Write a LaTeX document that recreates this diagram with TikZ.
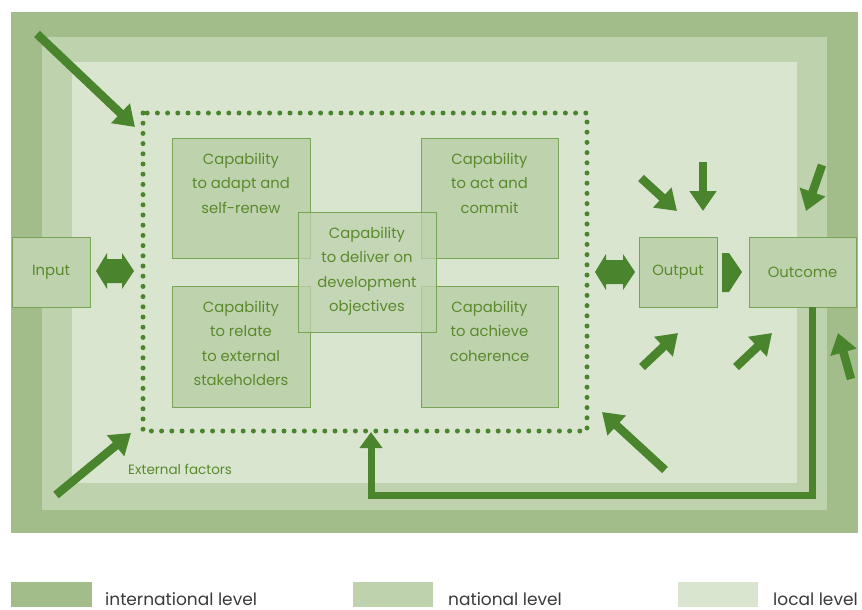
\documentclass[tikz,border=0pt]{standalone}
\usepackage{fontspec}
\setmainfont{Poppins}
\usetikzlibrary{arrows.meta}
\definecolor{intl}{HTML}{A2BD8A}
\definecolor{natl}{HTML}{BED2AE}
\definecolor{locl}{HTML}{DAE5D0}
\definecolor{agreen}{HTML}{4A852E}
\definecolor{bline}{HTML}{78A458}
\definecolor{tgreen}{HTML}{5A8A2C}
\definecolor{lgray}{HTML}{3A3A3A}
\tikzset{
  capbox/.style={draw=bline, line width=0.8pt, fill=natl, inner sep=0pt},
  captext/.style={text=tgreen, align=center, inner sep=0pt, anchor=north, font=\fontsize{14.8}{24.5}\selectfont},
  bigarrow/.style={draw=agreen, line width=8.5pt, -{Triangle[length=20pt,width=26pt]}},
  blockarrow/.style={fill=agreen, draw=none},
  legtext/.style={text=lgray, anchor=base west, inner sep=0pt, font=\fontsize{17}{20}\selectfont},
}
\begin{document}
\begin{tikzpicture}[x=1pt,y=-1pt]
\useasboundingbox (0,0) rectangle (862,610);
% levels
\fill[intl] (11,12) rectangle (858,533);
\fill[natl] (42,37) rectangle (827,510);
\fill[locl] (72,62) rectangle (797,483);
% legend
\fill[intl] (11,582) rectangle (92,607);
\fill[natl] (353,582) rectangle (433,607);
\fill[locl] (678,582) rectangle (758,607);
\node[legtext] (lint) at (105,605) {international level};
\node[legtext] (lnat) at (448,605) {national level};
\node[legtext] (lloc) at (773,605) {local level};
% dotted frame
\draw[agreen, line width=5pt, line cap=round, dash pattern=on 0pt off 10.2pt] (143,113) rectangle (587,431);
\coordinate (dtl) at (135,127);
\coordinate (dbl) at (131,433);
\coordinate (dbr) at (602,412);
\coordinate (dbm) at (371,432);
% capability boxes
\node[capbox, minimum width=138pt, minimum height=120pt] (adapt) at (241,198) {};
\node[capbox, minimum width=138pt, minimum height=121pt] (relate) at (241,346.5) {};
\node[capbox, minimum width=137pt, minimum height=120pt] (act) at (489.5,198) {};
\node[capbox, minimum width=137pt, minimum height=121pt] (coher) at (489.5,346.5) {};
\node[capbox, fill opacity=0.75, minimum width=138pt, minimum height=120pt] (deliver) at (367,272) {};
\node[captext] (tadapt) at ([yshift=-15pt]adapt.north) {Capability\\to adapt and\\self-renew};
\node[captext] (trelate) at ([yshift=-15pt]relate.north) {Capability\\to relate\\to external\\stakeholders};
\node[captext] (tact) at ([yshift=-15pt]act.north) {Capability\\to act and\\commit};
\node[captext] (tcoher) at ([yshift=-15pt]coher.north) {Capability\\to achieve\\coherence};
\node[captext] (tdeliver) at ([yshift=-15pt]deliver.north) {Capability\\to deliver on\\development\\objectives};
% input / output / outcome
\node[capbox, minimum width=78pt, minimum height=70pt, text=tgreen, font=\fontsize{14.8}{17}\selectfont] (input) at (51,272) {Input};
\node[capbox, minimum width=78pt, minimum height=70pt, text=tgreen, font=\fontsize{14.8}{17}\selectfont] (output) at (678,272) {Output};
\node[capbox, minimum width=107pt, minimum height=70pt, text=tgreen, font=\fontsize{14.8}{17}\selectfont] (outcome) at (802.5,272) {Outcome};
% block arrows
\fill[blockarrow] (96,271) -- (107,253) -- (107,259) -- (122,259) -- (122,253) -- (134,271) -- (122,289) -- (122,283) -- (107,283) -- (107,289) -- cycle;
\fill[blockarrow] (595,272) -- (606,254) -- (606,260) -- (623,260) -- (623,254) -- (635,272) -- (623,290) -- (623,284) -- (606,284) -- (606,290) -- cycle;
\fill[blockarrow] (722,253) -- (729,253) -- (742,272) -- (729,292) -- (722,292) -- cycle;
% external factors
\node[text=tgreen, anchor=west, inner sep=0pt, font=\fontsize{13.5}{16}\selectfont] (ext) at (128,469) {External factors};
% thick arrows
\coordinate (a1s) at (37,34);
\draw[bigarrow] (a1s) -- (dtl);
\coordinate (a2s) at (56,495);
\draw[bigarrow] (a2s) -- (dbl);
\coordinate (a3s) at (665,470);
\draw[bigarrow] (a3s) -- (dbr);
\coordinate (a4s) at (641,178); \coordinate (a4e) at (677,211);
\draw[bigarrow] (a4s) -- (a4e);
\coordinate (a5s) at (703,162); \coordinate (a5e) at (703,211);
\draw[bigarrow] (a5s) -- (a5e);
\coordinate (a6s) at (642,367); \coordinate (a6e) at (678,333);
\draw[bigarrow] (a6s) -- (a6e);
\coordinate (a7s) at (736,367); \coordinate (a7e) at (772,333);
\draw[bigarrow] (a7s) -- (a7e);
\coordinate (a8s) at (822,165); \coordinate (a8e) at (806,211);
\draw[bigarrow] (a8s) -- (a8e);
\coordinate (a9s) at (851,379); \coordinate (a9e) at (838,333);
\draw[bigarrow] (a9s) -- (a9e);
% feedback loop
\coordinate (fb1) at (812,495);
\draw[draw=agreen, line width=7pt, -{Triangle[length=16pt,width=22pt]}] (outcome.south -| fb1) -- (fb1) -- (fb1 -| dbm) -- (dbm);
\end{tikzpicture}
\end{document}
